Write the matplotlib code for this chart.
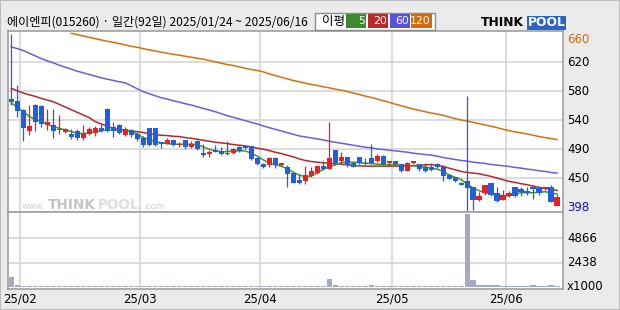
import numpy as np
import matplotlib.pyplot as plt
from matplotlib.patches import Rectangle
from matplotlib.transforms import blended_transform_factory

plt.rcParams['font.family'] = ['Noto Sans CJK KR', 'DejaVu Sans']

nan = np.nan

title = '에이엔피(015260) · 일간(92일) 2025/01/24 ~ 2025/06/16'
month_labels = ['25/02', '25/03', '25/04', '25/05', '25/06']
month_start = [2, 22, 42, 64, 83]  # index of first trading day in each month

opens = [561, 558, 544, 513, 552, 550, 522, 522, 514, 512,
         508, 513, 503, 508, 510, 518, 546, 519, 522, 507,
         514, 508, 503, 517, 517, 497, 494, 499, 492, 499,
         489, 498, 480, 478, 484, 483, 480, 480, 489, 490,
         490, 472, 463, 462, 472, 461, 459, 449, 439, 438,
         445, 450, 460, 456, 484, 467, 473, 464, 473, 465,
         472, 467, 475, 464, 468, 463, 453, 465, 463, 458,
         458, 463, 458, 447, 443, 435, 438, 429, 409, 420,
         434, 420, 409, 415, 428, 425, 423, 429, 427, 425,
         429, 400]
highs = [659, 582, 546, 552, 553, 552, 546, 546, 537, 518,
         516, 516, 522, 519, 521, 524, 547, 527, 523, 519,
         516, 512, 505, 518, 518, 497, 502, 500, 497, 500,
         498, 499, 493, 485, 492, 489, 498, 487, 490, 491,
         491, 473, 464, 473, 474, 465, 462, 450, 448, 460,
         458, 462, 467, 527, 485, 482, 474, 465, 474, 472,
         493, 478, 476, 468, 468, 463, 466, 468, 463, 464,
         464, 464, 462, 448, 443, 436, 565, 429, 421, 432,
         435, 428, 424, 423, 429, 429, 429, 432, 429, 429,
         432, 418]
lows = [552, 534, 498, 507, 513, 519, 514, 502, 508, 510,
        501, 499, 500, 507, 505, 512, 512, 504, 509, 505,
        504, 498, 489, 491, 491, 487, 493, 491, 489, 486,
        488, 485, 474, 473, 481, 477, 477, 478, 482, 486,
        469, 462, 457, 459, 457, 460, 428, 434, 433, 433,
        444, 448, 454, 455, 462, 464, 458, 458, 463, 462,
        463, 466, 462, 460, 462, 451, 452, 463, 452, 451,
        452, 457, 437, 440, 436, 431, 392, 394, 408, 416,
        415, 406, 409, 414, 414, 415, 417, 411, 417, 424,
        406, 400]
closes = [557, 543, 518, 520, 527, 523, 527, 513, 516, 516,
          504, 503, 509, 516, 518, 513, 513, 513, 510, 516,
          507, 501, 492, 492, 492, 494, 499, 492, 494, 489,
          494, 486, 476, 482, 482, 478, 478, 486, 483, 487,
          471, 463, 459, 472, 461, 464, 448, 435, 434, 447,
          452, 460, 455, 472, 464, 473, 462, 459, 464, 463,
          464, 475, 463, 468, 463, 452, 464, 468, 455, 452,
          454, 458, 445, 441, 437, 432, 427, 409, 415, 432,
          417, 408, 417, 419, 415, 421, 419, 425, 419, 428,
          406, 414]
# volume in thousands of shares
volume = [1000, 200, 100, 100, 100, 100, 100, 100, 100, 100,
          100, 100, 100, 100, 100, 100, 100, 100, 100, 100,
          100, 100, 100, 100, 100, 100, 100, 100, 100, 100,
          100, 100, 100, 100, 100, 100, 100, 100, 100, 100,
          100, 100, 100, 100, 100, 100, 100, 100, 100, 100,
          100, 100, 100, 800, 200, 100, 100, 100, 100, 100,
          200, 100, 100, 100, 100, 100, 100, 100, 100, 100,
          100, 100, 100, 100, 100, 100, 7300, 700, 200, 200,
          200, 200, 100, 100, 100, 100, 100, 200, 100, 100,
          200, 100]
ma5 = [555, 549, 542, 535, 530, 527.5, 523, 519.5, 517, 514.5,
       512, 509.5, 509, 510, 512, 513, 514.5, 514.5, 514.5, 514.5,
       513, 508, 503, 500, 497, 495, 494, 493, 493, 493,
       493, 492.5, 489, 485.5, 483, 481.5, 482, 483, 483, 483,
       479.5, 475, 469.5, 465, 462, 460, 456, 451, 446.5, 444,
       445, 450, 455, 459, 462, 465, 466.5, 466, 465, 464.5,
       464, 463, 462.5, 462, 462, 461.5, 461, 460.5, 459.5, 458.5,
       457, 455.5, 452, 447, 443, 440, 433, 427, 423, 420,
       418, 416.5, 415.5, 415, 418, 420, 420, 420, 420.5, 421.5,
       419.5, 418]
ma20 = [577, 573.5, 570, 567.5, 565, 562, 559.5, 557, 553, 549,
        545, 541, 537, 533, 527, 523.5, 520, 517, 514.5, 513.5,
        512.5, 512, 510.5, 509, 507.5, 506.5, 506, 505, 504.5, 503,
        502, 500.5, 499, 497.5, 496, 495, 494, 492.5, 491.5, 490.5,
        489, 487, 485.5, 483.5, 481, 479, 476.5, 474, 471, 468.5,
        467, 466, 465, 464.5, 463.5, 463, 462, 461, 460.5, 460,
        460, 460, 460, 460, 460, 460, 460, 460.5, 461.5, 462,
        462, 461.5, 459.5, 457, 454.5, 452, 450.5, 449.5, 448.5, 446.5,
        444.5, 442, 439.5, 437, 435.5, 433.5, 432, 430, 428, 426.5,
        425, 423.5]
ma60 = [639.5, 637, 634, 630, 626, 622, 618.5, 615.5, 612, 609,
        606, 603, 600.5, 598, 595.5, 593, 591, 589, 587, 585.5,
        581, 576.5, 572, 569, 566, 563, 561, 558.5, 556.5, 554,
        552, 549.5, 547, 544.5, 542, 539, 536, 533.5, 531, 528.5,
        526, 523.5, 520.5, 518, 515.5, 513, 510.5, 508, 505.5, 504,
        502.5, 501, 499.5, 497.5, 496, 494.5, 493, 491.5, 490, 488.5,
        487.5, 486, 485, 484, 483, 482, 481, 479.5, 478.5, 477.5,
        476.5, 475, 473, 471.5, 470, 468.5, 467.5, 466, 465, 464,
        462.5, 461.5, 460.5, 459.5, 458, 457, 455.5, 454.5, 453, 452,
        450.5, 449.5]
ma120 = [nan, nan, nan, nan, nan, nan, nan, nan, nan, nan,
         660, 658, 656, 654, 652, 650, 648, 646.5, 644.5, 642.5,
         640.5, 639, 637, 635, 633.5, 631.5, 630, 628.5, 627, 625.5,
         624, 622.5, 621, 619, 617, 615, 613, 611.5, 609.5, 607.5,
         605.5, 604, 602, 599, 596.5, 594, 591.5, 589, 587, 585,
         583, 581.5, 579.5, 578, 576, 574.5, 572.5, 570, 568, 565.5,
         563.5, 561, 558.5, 556, 553.5, 551, 548.5, 546, 544, 542,
         540, 538.5, 536.5, 534, 531.5, 529.5, 528, 526, 524, 522,
         520, 518, 515.5, 513.5, 511.5, 510, 508.5, 506.5, 504.5, 503,
         501.5, 500]

price_tick_labels = ['398', '450', '490', '540', '580', '620', '660']
vol_ticks = [0, 2438, 4866]
vol_tick_labels = ['x1000', '2438', '4866']

legend_labels = ['5', '20', '60', '120']
legend_colors = ['#3d8b2c', '#b8292b', '#5b52d6', '#d36b0a']
ma_colors = ['#3c9a28', '#b5282a', '#6a5ee0', '#d7700a']

RED = '#ee1c24'
BLUE = '#1f5fe0'
GRID = '#d9d9d9'

W, H = 620, 310


def box(x0, y0, x1, y1):
    return [x0 / W, 1 - y1 / H, (x1 - x0) / W, (y1 - y0) / H]


fig = plt.figure(figsize=(W / 100, H / 100), dpi=100, facecolor='#ebebeb')
fig.patches.append(Rectangle((0, 0), 1, 1, transform=fig.transFigure,
                             facecolor='none', edgecolor='#bcbcbc', lw=1.5))

ax = fig.add_axes(box(8, 31, 563, 212))
axv = fig.add_axes(box(8, 212, 563, 289), sharex=ax)

x = np.arange(len(closes))
o = np.array(opens, float)
c = np.array(closes, float)
hi = np.array(highs, float)
lo = np.array(lows, float)
up = c > o

# price panel
ymin, ymax = 390.9, 663.5
ax.set_xlim(-0.55, 92.0)
ax.set_ylim(ymin, ymax)
tick_pos = np.linspace(398, 660, len(price_tick_labels))
for v in tick_pos[1:-1]:
    ax.axhline(v, color=GRID, lw=1.3, zorder=0)
for axx in (ax, axv):
    for m in month_start:
        axx.axvline(m - 0.5, color=GRID, lw=1.3, zorder=0)
    axx.set_xticks([])
    axx.set_yticks([])
    axx.set_facecolor('white')
    for s in axx.spines.values():
        s.set_color('#a0a0a0')
        s.set_linewidth(1.2)

for ma, col in zip([ma120, ma60, ma20, ma5], ma_colors[::-1]):
    ax.plot(x, ma, color=col, lw=1.1, zorder=2)

colors = np.where(up, RED, BLUE)
ax.vlines(x, lo, hi, colors=colors, lw=0.9, zorder=3)
body_lo = np.minimum(o, c)
body_h = np.maximum(np.abs(c - o), 1.5)
ax.bar(x, body_h, bottom=body_lo, width=0.85, color=colors, zorder=4)

# watermark
wm = dict(transform=fig.transFigure, va='baseline', zorder=1, family='DejaVu Sans')
ax.text(22 / W, 1 - 209 / H, 'www.', fontsize=6.3, color='#cdcdcd', **wm)
ax.text(48 / W, 1 - 209 / H, 'THINK', fontsize=9.8, fontweight='bold', color='#c4c4c4', **wm)
ax.text(98 / W, 1 - 209 / H, 'POOL', fontsize=9.8, fontweight='bold', color='#dedede', **wm)
ax.text(143 / W, 1 - 209 / H, '.com', fontsize=6.3, color='#cdcdcd', **wm)

# right price labels
tr = blended_transform_factory(ax.transAxes, ax.transData)
lab_colors = ['#1414c8'] + ['black'] * 5 + ['#d06a10']
for v, lab, col in zip(tick_pos, price_tick_labels, lab_colors):
    ax.text(1.007, v, lab, transform=tr, ha='left',
            va='top' if lab == '660' else 'center', fontsize=8.5, color=col,
            family='DejaVu Sans', clip_on=False)

# volume panel
axv.set_ylim(-200, 7500)
for v in vol_ticks[1:]:
    axv.axhline(v, color=GRID, lw=1.3, zorder=0)
axv.bar(x, volume, width=0.85, color='#a3abc4', zorder=2)
trv = blended_transform_factory(axv.transAxes, axv.transData)
for v, lab in zip(vol_ticks, vol_tick_labels):
    axv.text(1.007, v, lab, transform=trv, ha='left', va='center',
             fontsize=8.5, color='black', family='DejaVu Sans', clip_on=False)

for m, lab in zip(month_start, month_labels):
    axv.text(m - 0.5, -0.05, lab, transform=blended_transform_factory(axv.transData, axv.transAxes),
             ha='center', va='top', fontsize=8.5, family='DejaVu Sans')

# header
fig.text(7 / W, 1 - 22 / H, title, ha='left', va='center', fontsize=8.7)
fig.patches.append(Rectangle((315 / W, 1 - 29.5 / H), 120 / W, 17 / H, transform=fig.transFigure,
                             facecolor='white', edgecolor='#8c8c8c', lw=1))
fig.text(322 / W, 1 - 21.5 / H, '이평', ha='left', va='center', fontsize=9)
lx = [346, 368, 390, 411]
lw_ = [20, 20, 20, 21]
for x0, w0, lab, col in zip(lx, lw_, legend_labels, legend_colors):
    fig.patches.append(Rectangle((x0 / W, 1 - 28 / H), w0 / W, 13.5 / H, transform=fig.transFigure,
                                 facecolor=col, edgecolor='none'))
    fig.text((x0 + w0 - 1) / W, 1 - 21.5 / H, lab, ha='right', va='center',
             fontsize=7.8, color='white', family='DejaVu Sans')

# logo
fig.text(481 / W, 1 - 23 / H, 'THINK', ha='left', va='center', fontsize=8.8,
         fontweight='bold', family='DejaVu Sans', color='black')
fig.patches.append(Rectangle((527 / W, 1 - 30 / H), 39 / W, 14 / H, transform=fig.transFigure,
                             facecolor='#2a64c8', edgecolor='none'))
fig.text(546.5 / W, 1 - 23 / H, 'POOL', ha='center', va='center', fontsize=8.8,
         fontweight='bold', family='DejaVu Sans', color='white')

fig.savefig('out.png', dpi=100, facecolor=fig.get_facecolor())
